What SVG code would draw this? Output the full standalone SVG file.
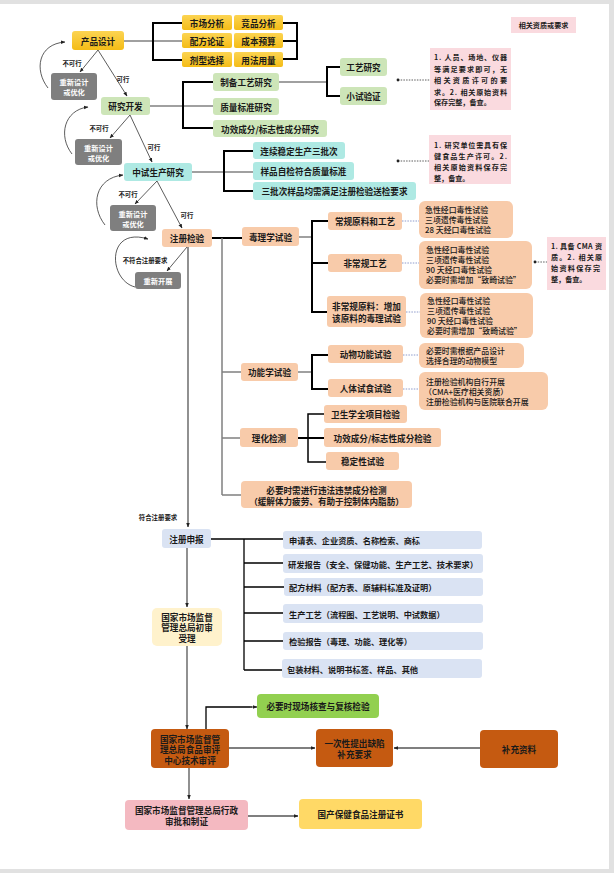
<svg xmlns="http://www.w3.org/2000/svg" width="614" height="873" viewBox="0 0 614 873">
<style>
text{font-family:"Noto Sans CJK SC","Noto Sans",sans-serif;fill:#1a1a1a;dominant-baseline:central}
.t{font-size:8.6px;font-weight:700;text-anchor:middle}
.tl{font-size:7.9px;font-weight:500}
.tb{font-size:8.2px;font-weight:700}
.g text{fill:#fff;font-size:7.2px;font-weight:700;text-anchor:middle}
.lb{font-size:6.4px;font-weight:700;text-anchor:middle}
.nt{font-size:7.1px;font-weight:700}
.yl{fill:url(#gold)}
.gr{fill:#CDE5B8}
.cy{fill:#AEE9E3}
.pe{fill:#F8CBAA}
.gy{fill:#7F7F7F}
.pk{fill:#FADADF}
.bl{fill:#DAE3F3}
.ly{fill:#FFF2CC}
.dor{fill:#C55A11}
.bg{fill:#92D050}
.pr{fill:#F4B9C1}
.yw{fill:#FFD966}
.k{fill:none;stroke:#000;stroke-width:2}
.s{fill:none;stroke:#808080;stroke-width:1.5}
.a{fill:none;stroke:#333;stroke-width:0.8;marker-end:url(#ar)}
.m{fill:none;stroke:#555;stroke-width:1.3;marker-end:url(#ar)}
.d{fill:none;stroke:#8E9BCB;stroke-width:1;stroke-dasharray:1.5 1.2}
.dk{fill:none;stroke:#333;stroke-width:0.8;stroke-dasharray:1.5 1.2}
</style>
<defs>
<linearGradient id="gold" x1="0" y1="0" x2="0" y2="1"><stop offset="0" stop-color="#FCD452"/><stop offset="1" stop-color="#F4BC16"/></linearGradient>
<marker id="ar" viewBox="0 0 10 10" refX="9" refY="5" markerWidth="4.5" markerHeight="4.5" markerUnits="userSpaceOnUse" orient="auto"><path d="M0,1 L10,5 L0,9 z" fill="#222"/></marker>
</defs>
<rect x="0" y="0" width="614" height="873" fill="#E1E1E1"/>
<rect x="0" y="4" width="609" height="865" fill="#FFFFFF"/>

<g id="connectors">
<path class="s" d="M124,41 H182"/>
<path class="k" d="M182,23 H153 V60 H182"/>
<path class="k" d="M283,23 H297 V59 H283 M283,41 H297"/>
<path class="s" d="M150,106 H213"/>
<path class="k" d="M213,82 H183 V128 H213"/>
<path class="s" d="M279,82 H327"/>
<path class="k" d="M340,67 H327 V96 H340"/>
<path class="s" d="M192,172 H253"/>
<path class="k" d="M253,151 H224 V191 H253"/>
<path class="dk" d="M398,80 H430"/><circle cx="398" cy="80" r="1.4" fill="#222"/>
<path class="dk" d="M398,161 H429"/><circle cx="398" cy="161" r="1.4" fill="#222"/>
<path class="a" d="M98,50 L80,72"/>
<path class="a" d="M98,50 L127,96"/>
<path class="a" d="M130,115 L110,138"/>
<path class="a" d="M130,115 L152,162"/>
<path class="a" d="M157,181 L135,204"/>
<path class="a" d="M157,181 L182,228"/>
<path class="a" d="M187,247 L167,271"/>
<path class="a" d="M48,88 C34,70 38,44 65,42"/>
<path class="a" d="M72,154 C58,136 64,110 88,107"/>
<path class="a" d="M105,225 C90,206 95,178 123,175"/>
<path class="a" d="M135,287 C108,280 106,226 148,239"/>
<path class="m" d="M188,247 V527"/>
<path class="k" d="M212,238 H242"/>
<path class="s" d="M222,238 V495 M222,372 H241 M222,438 H240 M222,495 H241"/>
<path class="s" d="M299,237 H312"/>
<path class="k" d="M328,221 H312 V312 H327 M312,263 H328"/>
<path class="d" d="M402,221 H419 M402,263 H419 M406,312 H420"/>
<path class="dk" d="M535,262 H547"/><circle cx="535" cy="262" r="1.4" fill="#222"/>
<path class="s" d="M298,372 H312"/>
<path class="k" d="M328,355 H312 V389 H328"/>
<path class="d" d="M403,355 H419 M403,389 H419"/>
<path class="k" d="M298,438 H324"/>
<path class="k" d="M324,414 H308 V462 H326" style="stroke-width:1.5"/>
<path class="k" d="M211,539 H283 M244,539 V670 M244,563 H283 M244,587 H284 M244,613 H283 M244,641 H283 M244,670 H282" style="stroke-width:1.3"/>
<path class="m" d="M187,548 V607"/>
<path class="m" d="M187,646 V729"/>
<path class="k" d="M206,729 V707 H252" style="stroke-width:1.3"/>
<path class="m" d="M250,707 H257"/>
<path class="m" d="M229,748 H315"/>
<path class="m" d="M480,748 H394"/>
<path class="m" d="M189,768 V799"/>
<path class="m" d="M248,816 H298"/>
<text class="lb" x="72" y="63">不可行</text>
<text class="lb" x="123" y="79">可行</text>
<text class="lb" x="99" y="128">不可行</text>
<text class="lb" x="154" y="147">可行</text>
<text class="lb" x="128" y="194">不可行</text>
<text class="lb" x="187" y="215">可行</text>
<text class="lb" x="145" y="260">不符合注册要求</text>
<text class="lb" x="158" y="517">符合注册要求</text>
</g>

<g id="n-label"><rect class="pk" x="511" y="17" width="65" height="16"/><text class="nt" x="543.5" y="25" text-anchor="middle">相关资质或要求</text></g>

<g id="n-design"><rect class="yl" x="72" y="31" width="52" height="19" rx="3"/><text class="t" x="98" y="40.5">产品设计</text></g>
<g id="n-market"><rect class="yl" x="182" y="15" width="50" height="15" rx="2"/><text class="t" x="207" y="22.5">市场分析</text></g>
<g id="n-compete"><rect class="yl" x="234" y="15" width="49" height="15" rx="2"/><text class="t" x="258.5" y="22.5">竞品分析</text></g>
<g id="n-formula"><rect class="yl" x="182" y="33" width="50" height="15" rx="2"/><text class="t" x="207" y="40.5">配方论证</text></g>
<g id="n-cost"><rect class="yl" x="234" y="33" width="49" height="15" rx="2"/><text class="t" x="258.5" y="40.5">成本预算</text></g>
<g id="n-dosage"><rect class="yl" x="182" y="52" width="50" height="15" rx="2"/><text class="t" x="207" y="59.5">剂型选择</text></g>
<g id="n-usage"><rect class="yl" x="234" y="52" width="49" height="15" rx="2"/><text class="t" x="258.5" y="59.5">用法用量</text></g>

<g id="n-redo1" class="g"><rect class="gy" x="51" y="73" width="46" height="27" rx="3"/><text x="74" y="82">重新设计</text><text x="74" y="92">或优化</text></g>

<g id="n-rd"><rect class="gr" x="101" y="97" width="49" height="18" rx="3"/><text class="t" x="125.5" y="106">研究开发</text></g>
<g id="n-process"><rect class="gr" x="213" y="73" width="66" height="18" rx="3"/><text class="t" x="246" y="82">制备工艺研究</text></g>
<g id="n-quality"><rect class="gr" x="213" y="98" width="66" height="17" rx="3"/><text class="t" x="246" y="106.5">质量标准研究</text></g>
<g id="n-effect"><rect class="gr" x="213" y="120" width="114" height="17" rx="3"/><text class="t" x="270" y="128.5">功效成分/标志性成分研究</text></g>
<g id="n-craft"><rect class="gr" x="340" y="58" width="47" height="18" rx="3"/><text class="t" x="363.5" y="67">工艺研究</text></g>
<g id="n-pilot"><rect class="gr" x="340" y="87" width="47" height="18" rx="3"/><text class="t" x="363.5" y="96">小试验证</text></g>

<g id="n-note1"><rect class="pk" x="430" y="48" width="81" height="62"/>
<text class="nt" x="434" y="57" textLength="73" lengthAdjust="spacing">1. 人员、场地、仪器</text>
<text class="nt" x="434" y="68.5" textLength="73" lengthAdjust="spacing">等满足要求即可，无</text>
<text class="nt" x="434" y="80" textLength="73" lengthAdjust="spacing">相关资质许可的要</text>
<text class="nt" x="434" y="91.5" textLength="73" lengthAdjust="spacing">求。2. 相关原始资料</text>
<text class="nt" x="434" y="102">保存完整，备查。</text></g>

<g id="n-redo2" class="g"><rect class="gy" x="75" y="139" width="47" height="26" rx="3"/><text x="98.5" y="147.5">重新设计</text><text x="98.5" y="157.5">或优化</text></g>

<g id="n-trial"><rect class="cy" x="124" y="163" width="68" height="18" rx="3"/><text class="t" x="158" y="172">中试生产研究</text></g>
<g id="n-batch"><rect class="cy" x="253" y="142" width="92" height="17" rx="3"/><text class="t" x="299" y="150.5">连续稳定生产三批次</text></g>
<g id="n-selfcheck"><rect class="cy" x="253" y="162" width="101" height="18" rx="3"/><text class="t" x="303.5" y="171">样品自检符合质量标准</text></g>
<g id="n-sample"><rect class="cy" x="253" y="182" width="163" height="18" rx="3"/><text class="t" x="334.5" y="191">三批次样品均需满足注册检验送检要求</text></g>

<g id="n-note2"><rect class="pk" x="429" y="135" width="82" height="49"/>
<text class="nt" x="434" y="145" textLength="73" lengthAdjust="spacing">1. 研究单位需具有保</text>
<text class="nt" x="434" y="156" textLength="73" lengthAdjust="spacing">健食品生产许可。2.</text>
<text class="nt" x="434" y="167" textLength="73" lengthAdjust="spacing">相关原始资料保存完</text>
<text class="nt" x="434" y="178">整，备查。</text></g>

<g id="n-redo3" class="g"><rect class="gy" x="110" y="205" width="46" height="26" rx="3"/><text x="133" y="213.5">重新设计</text><text x="133" y="223.5">或优化</text></g>

<g id="n-inspect"><rect class="pe" x="162" y="229" width="50" height="18" rx="3"/><text class="t" x="187" y="238">注册检验</text></g>
<g id="n-restart" class="g"><rect class="gy" x="135" y="272" width="46" height="17" rx="3"/><text x="158" y="280.5">重新开展</text></g>

<g id="n-tox"><rect class="pe" x="242" y="227" width="57" height="19" rx="3"/><text class="t" x="270.5" y="236.5">毒理学试验</text></g>
<g id="n-regular"><rect class="pe" x="328" y="212" width="74" height="18" rx="3"/><text class="t" x="365" y="221">常规原料和工艺</text></g>
<g id="n-irregular"><rect class="pe" x="328" y="254" width="74" height="18" rx="3"/><text class="t" x="365" y="263">非常规工艺</text></g>
<g id="n-irrmat"><rect class="pe" x="327" y="296" width="79" height="31" rx="3"/><text class="t" x="366.5" y="305.5">非常规原料：增加</text><text class="t" x="366.5" y="317.5">该原料的毒理试验</text></g>
<g id="n-detA"><rect class="pe" x="419" y="201" width="94" height="37" rx="6"/>
<text class="tl" x="425" y="209">急性经口毒性试验</text><text class="tl" x="425" y="219">三项遗传毒性试验</text><text class="tl" x="425" y="229">28 天经口毒性试验</text></g>
<g id="n-detB"><rect class="pe" x="419" y="241" width="113" height="48" rx="6"/>
<text class="tl" x="426" y="249">急性经口毒性试验</text><text class="tl" x="426" y="259">三项遗传毒性试验</text><text class="tl" x="426" y="269">90 天经口毒性试验</text><text class="tl" x="426" y="279">必要时需增加“致畸试验”</text></g>
<g id="n-detC"><rect class="pe" x="420" y="293" width="113" height="45" rx="6"/>
<text class="tl" x="427" y="300.5">急性经口毒性试验</text><text class="tl" x="427" y="310.5">三项遗传毒性试验</text><text class="tl" x="427" y="320.5">90 天经口毒性试验</text><text class="tl" x="427" y="330.5">必要时需增加“致畸试验”</text></g>
<g id="n-note3"><rect class="pk" x="547" y="237" width="59" height="53"/>
<text class="nt" x="551" y="246" textLength="51" lengthAdjust="spacing">1. 具备 CMA 资</text>
<text class="nt" x="551" y="257" textLength="51" lengthAdjust="spacing">质。2. 相关原</text>
<text class="nt" x="551" y="268" textLength="49" lengthAdjust="spacing">始资料保存完</text>
<text class="nt" x="551" y="279">整，备查。</text></g>

<g id="n-func"><rect class="pe" x="241" y="363" width="57" height="18" rx="3"/><text class="t" x="269.5" y="372">功能学试验</text></g>
<g id="n-animal"><rect class="pe" x="328" y="345" width="75" height="18" rx="3"/><text class="t" x="365.5" y="354">动物功能试验</text></g>
<g id="n-human"><rect class="pe" x="328" y="379" width="75" height="18" rx="3"/><text class="t" x="365.5" y="388">人体试食试验</text></g>
<g id="n-detD"><rect class="pe" x="419" y="343" width="105" height="25" rx="6"/>
<text class="tl" x="426" y="350.5">必要时需根据产品设计</text><text class="tl" x="426" y="360.5">选择合理的动物模型</text></g>
<g id="n-detE"><rect class="pe" x="419" y="372" width="129" height="38" rx="6"/>
<text class="tl" x="426" y="381">注册检验机构自行开展</text><text class="tl" x="424" y="391">（CMA+医疗相关资质）</text><text class="tl" x="426" y="401">注册检验机构与医院联合开展</text></g>

<g id="n-phys"><rect class="pe" x="240" y="428" width="58" height="19" rx="3"/><text class="t" x="269" y="437.5">理化检测</text></g>
<g id="n-hygiene"><rect class="pe" x="324" y="405" width="83" height="18" rx="3"/><text class="t" x="365.5" y="414">卫生学全项目检验</text></g>
<g id="n-effcheck"><rect class="pe" x="324" y="428" width="117" height="19" rx="3"/><text class="t" x="382.5" y="437.5">功效成分/标志性成分检验</text></g>
<g id="n-stable"><rect class="pe" x="326" y="452" width="73" height="18" rx="3"/><text class="t" x="362.5" y="461">稳定性试验</text></g>
<g id="n-illegal"><rect class="pe" x="241" y="481" width="171" height="27" rx="4"/>
<text class="t" x="326.5" y="489.5">必要时需进行违法违禁成分检测</text><text class="t" x="326.5" y="500.5">（缓解体力疲劳、有助于控制体内脂肪）</text></g>

<g id="n-apply"><rect class="bl" x="162" y="529" width="49" height="19" rx="3"/><text class="t" x="186.5" y="538.5">注册申报</text></g>
<g id="n-b1"><rect class="bl" x="283" y="531" width="199" height="18" rx="3"/><text class="tb" x="289" y="540">申请表、企业资质、名称检索、商标</text></g>
<g id="n-b2"><rect class="bl" x="283" y="554" width="200" height="19" rx="3"/><text class="tb" x="288" y="563.5" textLength="190" lengthAdjust="spacingAndGlyphs">研发报告（安全、保健功能、生产工艺、技术要求）</text></g>
<g id="n-b3"><rect class="bl" x="284" y="578" width="199" height="18" rx="3"/><text class="tb" x="289" y="587">配方材料（配方表、原辅料标准及证明）</text></g>
<g id="n-b4"><rect class="bl" x="283" y="604" width="200" height="19" rx="3"/><text class="tb" x="289" y="613.5">生产工艺（流程图、工艺说明、中试数据）</text></g>
<g id="n-b5"><rect class="bl" x="283" y="632" width="200" height="18" rx="3"/><text class="tb" x="289" y="641">检验报告（毒理、功能、理化等）</text></g>
<g id="n-b6"><rect class="bl" x="282" y="659" width="200" height="19" rx="3"/><text class="tb" x="287" y="668.5">包装材料、说明书标签、样品、其他</text></g>

<g id="n-accept"><rect class="ly" x="152" y="608" width="70" height="38" rx="5"/>
<text class="t" x="187" y="616.5">国家市场监督</text><text class="t" x="187" y="627">管理总局初审</text><text class="t" x="187" y="637.5">受理</text></g>

<g id="n-onsite"><rect class="bg" x="257" y="694" width="122" height="24" rx="4"/><text class="t" x="318" y="706">必要时现场核查与复核检验</text></g>
<g id="n-review"><rect class="dor" x="151" y="729" width="78" height="39" rx="4"/>
<text class="t" x="190" y="738.5">国家市场监督管</text><text class="t" x="190" y="749">理总局食品审评</text><text class="t" x="190" y="759.5">中心技术审评</text></g>
<g id="n-defect"><rect class="dor" x="316" y="729" width="77" height="38" rx="4"/>
<text class="t" x="354.5" y="743">一次性提出缺陷</text><text class="t" x="354.5" y="754">补充要求</text></g>
<g id="n-supply"><rect class="dor" x="480" y="730" width="78" height="38" rx="4"/><text class="t" x="519" y="749">补充资料</text></g>
<g id="n-approve"><rect class="pr" x="125" y="800" width="123" height="30" rx="4"/>
<text class="t" x="186.5" y="810">国家市场监督管理总局行政</text><text class="t" x="186.5" y="821">审批和制证</text></g>
<g id="n-cert"><rect class="yw" x="299" y="799" width="123" height="30" rx="4"/><text class="t" x="360.5" y="814">国产保健食品注册证书</text></g>
</svg>
